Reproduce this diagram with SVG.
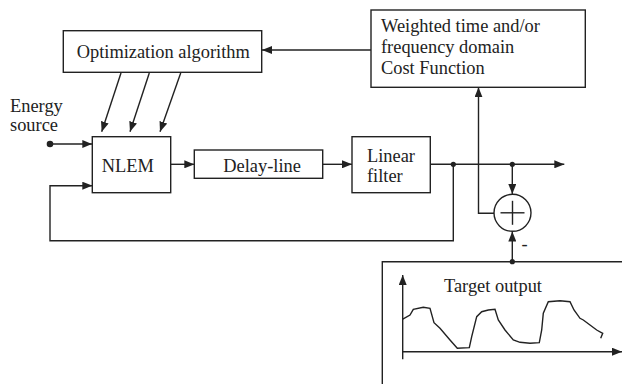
<svg xmlns="http://www.w3.org/2000/svg" width="622" height="384" viewBox="0 0 622 384">
<style>
  .box { fill: #fff; stroke: #222; stroke-width: 1.4; }
  .ln { fill: none; stroke: #222; stroke-width: 1.4; }
  .t { font-family: "Liberation Serif", "Times New Roman", serif; font-size: 18.4px; fill: #222; }
  .dot { fill: #222; }
</style>
<defs>
  <marker id="ah" markerUnits="userSpaceOnUse" markerWidth="10" markerHeight="8" refX="10" refY="4" orient="auto">
    <path d="M0,0 L10,4 L0,8 z" fill="#222"/>
  </marker>
</defs>
<rect width="622" height="384" fill="#fff"/>

<g id="connectors">
  <line class="ln" x1="371" y1="50" x2="262" y2="50" marker-end="url(#ah)"/>
  <line class="ln" x1="121" y1="73" x2="101.7" y2="131.7" marker-end="url(#ah)"/>
  <line class="ln" x1="149.3" y1="73" x2="130" y2="131.7" marker-end="url(#ah)"/>
  <line class="ln" x1="180.7" y1="73" x2="160" y2="131.7" marker-end="url(#ah)"/>
  <line class="ln" x1="50" y1="144" x2="92.3" y2="144" marker-end="url(#ah)"/>
  <circle class="dot" cx="50" cy="144" r="3.3"/>
  <line class="ln" x1="170.7" y1="164.3" x2="194.3" y2="164.3" marker-end="url(#ah)"/>
  <line class="ln" x1="322.7" y1="164.3" x2="352" y2="164.3" marker-end="url(#ah)"/>
  <line class="ln" x1="430.3" y1="164.3" x2="564.3" y2="164.3" marker-end="url(#ah)"/>
  <polyline class="ln" points="453.3,164.3 453.3,240.7 50,240.7 50,185.7 92.3,185.7" marker-end="url(#ah)"/>
  <circle class="dot" cx="453.3" cy="164.3" r="2.6"/>
  <circle class="dot" cx="512.3" cy="164.3" r="2.6"/>
  <polyline class="ln" points="494,213.3 478.5,213.3 478.5,87.3" marker-end="url(#ah)"/>
  <line class="ln" x1="512.3" y1="164.3" x2="512.3" y2="194" marker-end="url(#ah)"/>
  <line class="ln" x1="512.3" y1="261.7" x2="512.3" y2="231.5" marker-end="url(#ah)"/>
  <circle class="dot" cx="512.3" cy="261.7" r="2.6"/>
</g>

<g id="optimization">
  <rect class="box" x="63.3" y="30.7" width="198.4" height="41.6"/>
  <text class="t" x="76.7" y="58.3">Optimization algorithm</text>
</g>

<g id="cost-function">
  <rect class="box" x="371" y="10" width="214.3" height="77.3"/>
  <text class="t" x="381" y="32.3">Weighted time and/or</text>
  <text class="t" x="381" y="53.3">frequency domain</text>
  <text class="t" x="381" y="74.3">Cost Function</text>
</g>

<g id="energy-source">
  <text class="t" x="10" y="111.7">Energy</text>
  <text class="t" x="10" y="130.7">source</text>
</g>

<g id="nlem">
  <rect class="box" x="92.3" y="136.7" width="78.4" height="56"/>
  <text class="t" x="101.7" y="171.7">NLEM</text>
</g>

<g id="delay-line">
  <rect class="box" x="194.3" y="150" width="128.4" height="28.3"/>
  <text class="t" x="223.3" y="172.3">Delay-line</text>
</g>

<g id="linear-filter">
  <rect class="box" x="352" y="136.7" width="78.3" height="56"/>
  <text class="t" x="367" y="161.7">Linear</text>
  <text class="t" x="367" y="181.7">filter</text>
</g>

<g id="sum">
  <circle class="ln" cx="512.5" cy="212.8" r="18.5" fill="#fff"/>
  <line class="ln" x1="500.5" y1="212.8" x2="524.5" y2="212.8"/>
  <line class="ln" x1="512.5" y1="200.8" x2="512.5" y2="224.8"/>
  <text class="t" x="521.5" y="250">-</text>
</g>

<g id="target-output">
  <polyline class="ln" points="622,261.7 382.3,261.7 382.3,384"/>
  <line class="ln" x1="402.7" y1="359.3" x2="402.7" y2="275" marker-end="url(#ah)"/>
  <line class="ln" x1="402.7" y1="351.7" x2="622" y2="351.7" marker-end="url(#ah)"/>
  <text class="t" x="444" y="291.7">Target output</text>
  <polyline class="ln" stroke-width="1.2" points="402.3,319.3 410,315 413.3,309.3 423.3,307.3 430,308.3 434,322.7 440,328.3 450,340 457.3,348.3 469.3,347.7 471.7,336.7 476.7,316.7 481.7,311.7 488.3,310 495,309.3 498.3,320 505,330 513.3,340 520,342.3 530,343.3 539.3,342.7 541.7,330 543.3,313.3 548.3,301.7 560,300.7 570,301.7 574,310 580,318.3 583.3,320 590,325 596.7,330 602.7,333.3 600.7,338.3"/>
</g>
</svg>
